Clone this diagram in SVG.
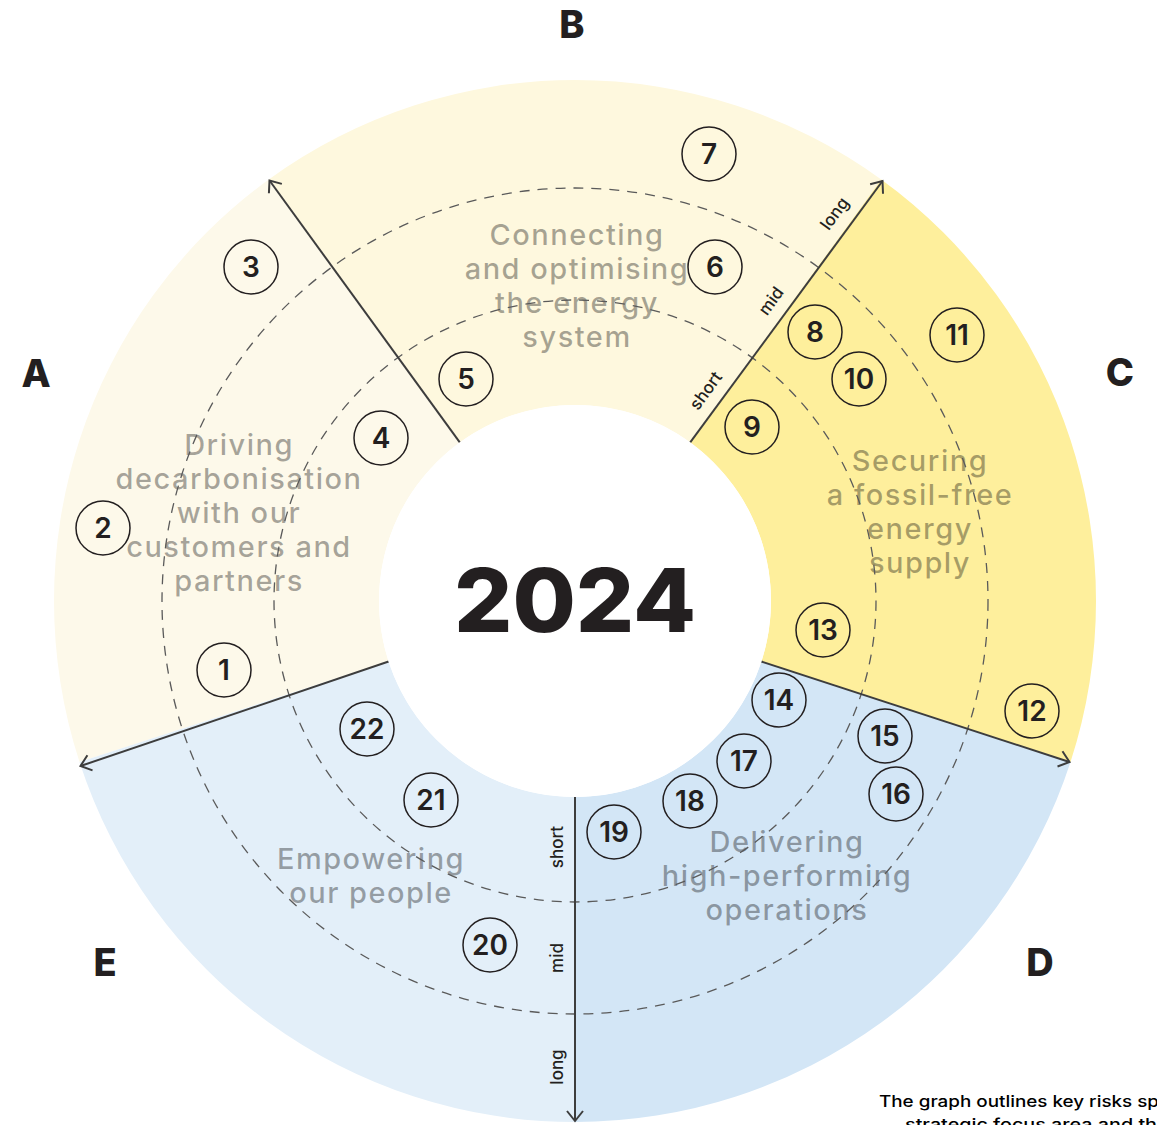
<svg xmlns="http://www.w3.org/2000/svg" width="1157" height="1125" viewBox="0 0 1157 1125">
<defs>
<style>
.lbl{font-family:Inter,"Liberation Sans",sans-serif;font-weight:800;font-size:38px;fill:#231f20;text-anchor:middle}
.sec{font-family:Inter,"Liberation Sans",sans-serif;font-weight:500;font-size:29px;letter-spacing:1.5px;fill:#000;fill-opacity:0.35;text-anchor:middle}
.num circle{fill:none;stroke:#231f20;stroke-width:1.5}
.num text{font-family:Inter,"Liberation Sans",sans-serif;font-weight:600;font-size:28px;fill:#231f20;text-anchor:middle}
.ax{font-family:Inter,"Liberation Sans",sans-serif;font-weight:500;font-size:17px;fill:#231f20;text-anchor:middle}
.dash{fill:none;stroke:#5a5a5a;stroke-width:1.3;stroke-dasharray:10 8}
.axis{stroke:#3d3d3d;stroke-width:2;fill:none}
</style>
<marker id="arr" viewBox="-12 -10 14 20" markerWidth="14" markerHeight="20" refX="0" refY="0" orient="auto" markerUnits="userSpaceOnUse">
<path d="M-10,-8 L0,0 L-10,8" fill="none" stroke="#3d3d3d" stroke-width="2"/>
</marker>
</defs>
<rect width="1157" height="1125" fill="#fff"/>
<g id="sectors">
<path id="sector-A" d="M388.59,661.57 L79.5,762 A521,521 0 0 1 268.76,179.5 L459.79,442.43 A196,196 0 0 0 388.59,661.57 Z" fill="#fdf9ea"/>
<path id="sector-B" d="M459.79,442.43 L268.76,179.5 A521,521 0 0 1 881.24,179.5 L690.21,442.43 A196,196 0 0 0 459.79,442.43 Z" fill="#fef8de"/>
<path id="sector-C" d="M690.21,442.43 L881.24,179.5 A521,521 0 0 1 1070.5,762 L761.41,661.57 A196,196 0 0 0 690.21,442.43 Z" fill="#feef9c"/>
<path id="sector-D" d="M761.41,661.57 L1070.5,762 A521,521 0 0 1 575,1122 L575,797 A196,196 0 0 0 761.41,661.57 Z" fill="#d3e6f6"/>
<path id="sector-E" d="M575,797 L575,1122 A521,521 0 0 1 79.5,762 L388.59,661.57 A196,196 0 0 0 575,797 Z" fill="#e3eff9"/>
</g>
<g id="sector-labels">
<text class="sec" x="577"><tspan x="577" y="245">Connecting</tspan><tspan x="577" y="279">and optimising</tspan><tspan x="577" y="313">the energy</tspan><tspan x="577" y="347">system</tspan></text>
<text class="sec" x="239"><tspan x="239" y="455">Driving</tspan><tspan x="239" y="489">decarbonisation</tspan><tspan x="239" y="523">with our</tspan><tspan x="239" y="557">customers and</tspan><tspan x="239" y="591">partners</tspan></text>
<text class="sec" x="920"><tspan x="920" y="471">Securing</tspan><tspan x="920" y="505">a fossil-free</tspan><tspan x="920" y="539">energy</tspan><tspan x="920" y="573">supply</tspan></text>
<text class="sec" x="787"><tspan x="787" y="852">Delivering</tspan><tspan x="787" y="886">high-performing</tspan><tspan x="787" y="920">operations</tspan></text>
<text class="sec" x="371"><tspan x="371" y="869">Empowering</tspan><tspan x="371" y="903">our people</tspan></text>
</g>
<g id="horizon-rings">
<circle class="dash" cx="575" cy="601" r="301"/>
<circle class="dash" cx="575" cy="601" r="413"/>
</g>
<g id="connectors">
<line class="axis" x1="459.79" y1="442.43" x2="269.5" y2="180.5" marker-end="url(#arr)"/>
<line class="axis" x1="690.21" y1="442.43" x2="882.5" y2="181" marker-end="url(#arr)"/>
<line class="axis" x1="761.41" y1="661.57" x2="1069.5" y2="762" marker-end="url(#arr)"/>
<line class="axis" x1="575" y1="797" x2="575" y2="1121" marker-end="url(#arr)"/>
<line class="axis" x1="388.59" y1="661.57" x2="80.5" y2="766" marker-end="url(#arr)"/>
</g>
<g id="axis-labels">
<text class="ax" transform="translate(710.5,394.1) rotate(-54)">short</text>
<text class="ax" transform="translate(775.7,304.3) rotate(-54)">mid</text>
<text class="ax" transform="translate(839.2,216.9) rotate(-54)">long</text>
<text class="ax" transform="translate(563,847) rotate(-90)">short</text>
<text class="ax" transform="translate(563,958) rotate(-90)">mid</text>
<text class="ax" transform="translate(563,1067) rotate(-90)">long</text>
</g>
<g id="center">
<circle cx="575" cy="601" r="196" fill="#fff"/>
<text x="575" y="632" font-family="Inter,'Liberation Sans',sans-serif" font-weight="800" font-size="88" fill="#231f20" text-anchor="middle" textLength="242" lengthAdjust="spacingAndGlyphs">2024</text>
</g>
<g id="area-letters">
<text id="label-A" class="lbl" x="36" y="387">A</text>
<text id="label-B" class="lbl" x="572" y="38">B</text>
<text id="label-C" class="lbl" x="1120" y="386">C</text>
<text id="label-D" class="lbl" x="1040" y="976">D</text>
<text id="label-E" class="lbl" x="105" y="976">E</text>
</g>
<g id="risks">
<g id="risk-1" class="num"><circle cx="224" cy="670" r="27"/><text x="224" y="680">1</text></g>
<g id="risk-2" class="num"><circle cx="103" cy="528" r="27"/><text x="103" y="538">2</text></g>
<g id="risk-3" class="num"><circle cx="251" cy="267" r="27"/><text x="251" y="277">3</text></g>
<g id="risk-4" class="num"><circle cx="381" cy="438" r="27"/><text x="381" y="448">4</text></g>
<g id="risk-5" class="num"><circle cx="466" cy="379" r="27"/><text x="466" y="389">5</text></g>
<g id="risk-6" class="num"><circle cx="715" cy="267" r="27"/><text x="715" y="277">6</text></g>
<g id="risk-7" class="num"><circle cx="709" cy="154" r="27"/><text x="709" y="164">7</text></g>
<g id="risk-8" class="num"><circle cx="815" cy="332" r="27"/><text x="815" y="342">8</text></g>
<g id="risk-9" class="num"><circle cx="752" cy="427" r="27"/><text x="752" y="437">9</text></g>
<g id="risk-10" class="num"><circle cx="859" cy="379" r="27"/><text x="859" y="389">10</text></g>
<g id="risk-11" class="num"><circle cx="957" cy="335" r="27"/><text x="957" y="345">11</text></g>
<g id="risk-12" class="num"><circle cx="1032" cy="711" r="27"/><text x="1032" y="721">12</text></g>
<g id="risk-13" class="num"><circle cx="823" cy="630" r="27"/><text x="823" y="640">13</text></g>
<g id="risk-14" class="num"><circle cx="779" cy="700" r="27"/><text x="779" y="710">14</text></g>
<g id="risk-15" class="num"><circle cx="885" cy="736" r="27"/><text x="885" y="746">15</text></g>
<g id="risk-16" class="num"><circle cx="896" cy="794" r="27"/><text x="896" y="804">16</text></g>
<g id="risk-17" class="num"><circle cx="744" cy="761" r="27"/><text x="744" y="771">17</text></g>
<g id="risk-18" class="num"><circle cx="690" cy="801" r="27"/><text x="690" y="811">18</text></g>
<g id="risk-19" class="num"><circle cx="614" cy="832" r="27"/><text x="614" y="842">19</text></g>
<g id="risk-20" class="num"><circle cx="490" cy="945" r="27"/><text x="490" y="955">20</text></g>
<g id="risk-21" class="num"><circle cx="431" cy="800" r="27"/><text x="431" y="810">21</text></g>
<g id="risk-22" class="num"><circle cx="367" cy="729" r="27"/><text x="367" y="739">22</text></g>
</g>
<g id="caption" font-family="Inter,'Liberation Sans',sans-serif" font-weight="500" font-size="16" fill="#000">
<text x="879" y="1107" textLength="280" lengthAdjust="spacingAndGlyphs">The graph outlines key risks sp</text>
<text x="905" y="1130" textLength="252" lengthAdjust="spacingAndGlyphs">strategic focus area and th</text>
</g>
</svg>
